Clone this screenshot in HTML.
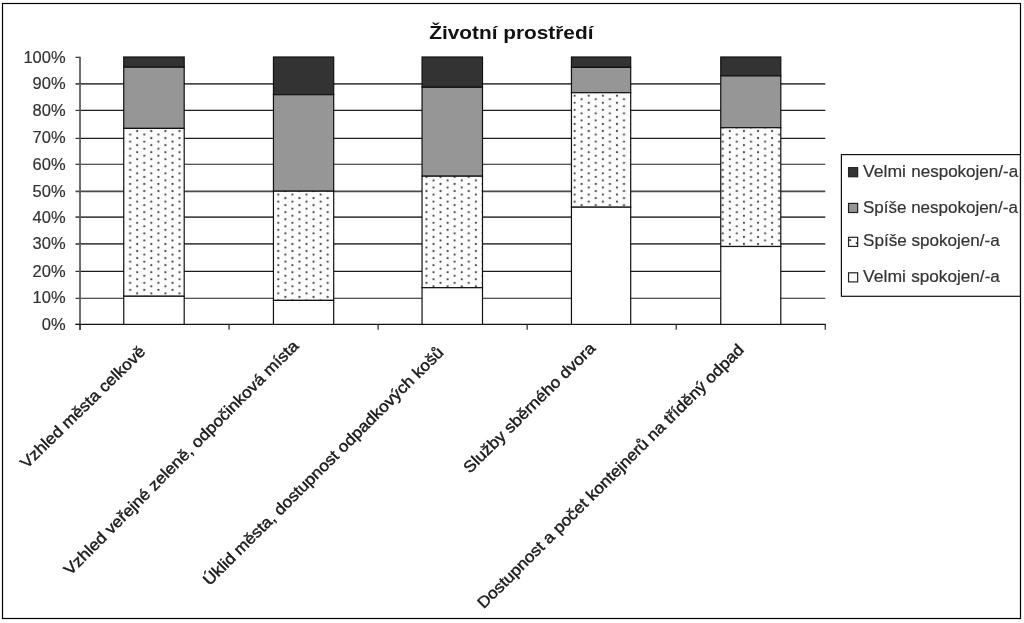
<!DOCTYPE html>
<html><head><meta charset="utf-8"><title>Životní prostředí</title>
<style>html,body{margin:0;padding:0;background:#fff}body{width:1024px;height:623px;overflow:hidden}svg{display:block;will-change:transform;filter:grayscale(1)}text{font-family:"Liberation Sans",sans-serif;fill:#333;stroke:#333;stroke-width:0.18}</style>
</head><body>
<svg width="1024" height="623" viewBox="0 0 1024 623">
<defs><pattern id="dots" patternUnits="userSpaceOnUse" x="137.2" y="131.0" width="14.11" height="7.06"><rect width="14.11" height="7.06" fill="#fdfdfd"/><circle cx="0" cy="0" r="1.1" fill="#4c4c4c"/><circle cx="14.11" cy="0" r="1.1" fill="#4c4c4c"/><circle cx="0" cy="7.06" r="1.1" fill="#4c4c4c"/><circle cx="14.11" cy="7.06" r="1.1" fill="#4c4c4c"/><circle cx="7.055" cy="3.53" r="1.1" fill="#4c4c4c"/></pattern></defs>
<rect width="1024" height="623" fill="#fff"/>
<rect x="2.5" y="3.5" width="1018" height="615" fill="none" stroke="#000" stroke-width="1.2"/>
<text transform="translate(429.2,39.2) scale(1.126,1)" font-size="18.5" font-weight="bold" style="fill:#111;stroke:none">Životní prostředí</text>
<line x1="80.0" y1="298.30" x2="825.3" y2="298.30" stroke="#1c1c1c" stroke-width="1.1"/>
<line x1="80.0" y1="271.35" x2="825.3" y2="271.35" stroke="#1c1c1c" stroke-width="1.1"/>
<line x1="80.0" y1="243.95" x2="825.3" y2="243.95" stroke="#4a4a4a" stroke-width="1.7"/>
<line x1="80.0" y1="217.10" x2="825.3" y2="217.10" stroke="#4a4a4a" stroke-width="1.7"/>
<line x1="80.0" y1="191.40" x2="825.3" y2="191.40" stroke="#4a4a4a" stroke-width="1.7"/>
<line x1="80.0" y1="164.30" x2="825.3" y2="164.30" stroke="#1c1c1c" stroke-width="1.1"/>
<line x1="80.0" y1="138.40" x2="825.3" y2="138.40" stroke="#1c1c1c" stroke-width="1.1"/>
<line x1="80.0" y1="110.35" x2="825.3" y2="110.35" stroke="#1c1c1c" stroke-width="1.1"/>
<line x1="80.0" y1="83.85" x2="825.3" y2="83.85" stroke="#4a4a4a" stroke-width="1.7"/>
<line x1="75.5" y1="324.40" x2="80.0" y2="324.40" stroke="#1c1c1c" stroke-width="1.1"/>
<text transform="translate(65.6,330.10) scale(1.03,1)" text-anchor="end" font-size="16">0%</text>
<line x1="75.5" y1="298.30" x2="80.0" y2="298.30" stroke="#1c1c1c" stroke-width="1.1"/>
<text transform="translate(65.6,303.10) scale(1.03,1)" text-anchor="end" font-size="16">10%</text>
<line x1="75.5" y1="271.35" x2="80.0" y2="271.35" stroke="#1c1c1c" stroke-width="1.1"/>
<text transform="translate(65.6,277.30) scale(1.03,1)" text-anchor="end" font-size="16">20%</text>
<line x1="75.5" y1="243.95" x2="80.0" y2="243.95" stroke="#4a4a4a" stroke-width="1.7"/>
<text transform="translate(65.6,249.20) scale(1.03,1)" text-anchor="end" font-size="16">30%</text>
<line x1="75.5" y1="217.10" x2="80.0" y2="217.10" stroke="#4a4a4a" stroke-width="1.7"/>
<text transform="translate(65.6,222.70) scale(1.03,1)" text-anchor="end" font-size="16">40%</text>
<line x1="75.5" y1="191.40" x2="80.0" y2="191.40" stroke="#4a4a4a" stroke-width="1.7"/>
<text transform="translate(65.6,197.00) scale(1.03,1)" text-anchor="end" font-size="16">50%</text>
<line x1="75.5" y1="164.30" x2="80.0" y2="164.30" stroke="#1c1c1c" stroke-width="1.1"/>
<text transform="translate(65.6,170.00) scale(1.03,1)" text-anchor="end" font-size="16">60%</text>
<line x1="75.5" y1="138.40" x2="80.0" y2="138.40" stroke="#1c1c1c" stroke-width="1.1"/>
<text transform="translate(65.6,143.30) scale(1.03,1)" text-anchor="end" font-size="16">70%</text>
<line x1="75.5" y1="110.35" x2="80.0" y2="110.35" stroke="#1c1c1c" stroke-width="1.1"/>
<text transform="translate(65.6,115.50) scale(1.03,1)" text-anchor="end" font-size="16">80%</text>
<line x1="75.5" y1="83.85" x2="80.0" y2="83.85" stroke="#4a4a4a" stroke-width="1.7"/>
<text transform="translate(65.6,89.40) scale(1.03,1)" text-anchor="end" font-size="16">90%</text>
<line x1="75.5" y1="57.30" x2="80.0" y2="57.30" stroke="#1c1c1c" stroke-width="1.1"/>
<text transform="translate(65.6,62.80) scale(1.03,1)" text-anchor="end" font-size="16">100%</text>
<line x1="80.0" y1="56.7" x2="80.0" y2="330.1" stroke="#5a5a5a" stroke-width="1.75"/>
<line x1="75.6" y1="324.4" x2="825.9" y2="324.4" stroke="#111" stroke-width="1.2"/>
<line x1="80.00" y1="324.4" x2="80.00" y2="329.8" stroke="#3a3a3a" stroke-width="1.35"/>
<line x1="229.06" y1="324.4" x2="229.06" y2="329.8" stroke="#3a3a3a" stroke-width="1.35"/>
<line x1="378.12" y1="324.4" x2="378.12" y2="329.8" stroke="#3a3a3a" stroke-width="1.35"/>
<line x1="527.18" y1="324.4" x2="527.18" y2="329.8" stroke="#3a3a3a" stroke-width="1.35"/>
<line x1="676.24" y1="324.4" x2="676.24" y2="329.8" stroke="#3a3a3a" stroke-width="1.35"/>
<line x1="825.30" y1="324.4" x2="825.30" y2="329.8" stroke="#3a3a3a" stroke-width="1.35"/>
<rect x="123.75" y="57.00" width="60.45" height="10.20" fill="#333333" stroke="#111" stroke-width="1.2"/>
<rect x="123.75" y="67.20" width="60.45" height="61.20" fill="#969696" stroke="#111" stroke-width="1.2"/>
<rect x="123.75" y="128.40" width="60.45" height="167.85" fill="url(#dots)" stroke="#111" stroke-width="1.2"/>
<rect x="123.75" y="296.25" width="60.45" height="28.15" fill="#ffffff" stroke="#111" stroke-width="1.2"/>
<rect x="273.45" y="57.00" width="60.25" height="37.70" fill="#333333" stroke="#111" stroke-width="1.2"/>
<rect x="273.45" y="94.70" width="60.25" height="96.50" fill="#969696" stroke="#111" stroke-width="1.2"/>
<rect x="273.45" y="191.20" width="60.25" height="109.20" fill="url(#dots)" stroke="#111" stroke-width="1.2"/>
<rect x="273.45" y="300.40" width="60.25" height="24.00" fill="#ffffff" stroke="#111" stroke-width="1.2"/>
<rect x="422.05" y="57.00" width="60.45" height="30.30" fill="#333333" stroke="#111" stroke-width="1.2"/>
<rect x="422.05" y="87.30" width="60.45" height="88.90" fill="#969696" stroke="#111" stroke-width="1.2"/>
<rect x="422.05" y="176.20" width="60.45" height="111.50" fill="url(#dots)" stroke="#111" stroke-width="1.2"/>
<rect x="422.05" y="287.70" width="60.45" height="36.70" fill="#ffffff" stroke="#111" stroke-width="1.2"/>
<rect x="571.45" y="57.00" width="59.25" height="10.40" fill="#333333" stroke="#111" stroke-width="1.2"/>
<rect x="571.45" y="67.40" width="59.25" height="25.30" fill="#969696" stroke="#111" stroke-width="1.2"/>
<rect x="571.45" y="92.70" width="59.25" height="114.50" fill="url(#dots)" stroke="#111" stroke-width="1.2"/>
<rect x="571.45" y="207.20" width="59.25" height="117.20" fill="#ffffff" stroke="#111" stroke-width="1.2"/>
<rect x="720.75" y="57.00" width="60.05" height="18.90" fill="#333333" stroke="#111" stroke-width="1.2"/>
<rect x="720.75" y="75.90" width="60.05" height="51.80" fill="#969696" stroke="#111" stroke-width="1.2"/>
<rect x="720.75" y="127.70" width="60.05" height="118.80" fill="url(#dots)" stroke="#111" stroke-width="1.2"/>
<rect x="720.75" y="246.50" width="60.05" height="77.90" fill="#ffffff" stroke="#111" stroke-width="1.2"/>
<rect x="841.4" y="154.6" width="179" height="141.7" fill="#fff" stroke="#111" stroke-width="1.2"/>
<rect x="848.55" y="167.65" width="9.1" height="9.1" fill="#333333" stroke="#222" stroke-width="1.2"/>
<text transform="translate(863.0,176.60) scale(1.10,1)" font-size="16">Velmi</text>
<text transform="translate(1018.1,176.60) scale(1.063,1)" text-anchor="end" font-size="16">nespokojen/-a</text>
<rect x="848.55" y="203.40" width="9.1" height="9.1" fill="#969696" stroke="#222" stroke-width="1.2"/>
<text transform="translate(863.0,212.70) scale(1.062,1)" font-size="16">Spíše nespokojen/-a</text>
<rect x="848.55" y="237.30" width="9.1" height="9.1" fill="#fff" stroke="#222" stroke-width="1.2"/>
<rect x="849.2" y="239.25" width="1.9" height="1.8" fill="#333"/><rect x="855.8" y="242.25" width="1.9" height="1.8" fill="#333"/>
<text transform="translate(863.0,246.20) scale(1.069,1)" font-size="16">Spíše spokojen/-a</text>
<rect x="848.55" y="272.80" width="9.1" height="9.1" fill="#ffffff" stroke="#222" stroke-width="1.2"/>
<text transform="translate(863.0,281.70) scale(1.10,1)" font-size="16">Velmi</text>
<text transform="translate(999.9,281.70) scale(1.073,1)" text-anchor="end" font-size="16">spokojen/-a</text>
<text transform="translate(146.40,352.70) rotate(-44.23) scale(1.0745,1)" text-anchor="end" font-size="16" style="fill:#1a1a1a;stroke:#1a1a1a;stroke-width:0.42">Vzhled města celkově</text>
<text transform="translate(299.50,346.90) rotate(-45.0) scale(1.082,1)" text-anchor="end" font-size="16" style="fill:#1a1a1a;stroke:#1a1a1a;stroke-width:0.42">Vzhled veřejné zeleně, odpočinková místa</text>
<text transform="translate(444.55,353.40) rotate(-44.73) scale(1.075,1)" text-anchor="end" font-size="16" style="fill:#1a1a1a;stroke:#1a1a1a;stroke-width:0.42">Úklid města, dostupnost odpadkových košů</text>
<text transform="translate(596.30,349.30) rotate(-44.55) scale(1.0867,1)" text-anchor="end" font-size="16" style="fill:#1a1a1a;stroke:#1a1a1a;stroke-width:0.42">Služby sběrného dvora</text>
<text transform="translate(744.80,350.70) rotate(-44.74) scale(1.077,1)" text-anchor="end" font-size="16" style="fill:#1a1a1a;stroke:#1a1a1a;stroke-width:0.42">Dostupnost a počet kontejnerů na tříděný odpad</text>
</svg></body></html>
